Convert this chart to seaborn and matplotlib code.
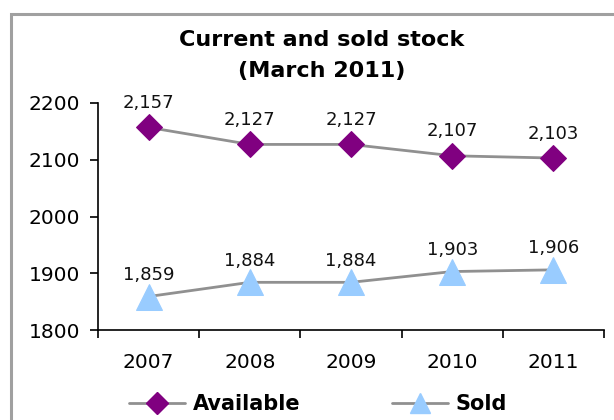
import matplotlib
matplotlib.use("Agg")
import matplotlib.pyplot as plt
import seaborn as sns
import pandas as pd
from matplotlib.lines import Line2D
from matplotlib.patches import Rectangle

years = [2007, 2008, 2009, 2010, 2011]
available = [2157, 2127, 2127, 2107, 2103]
sold = [1859, 1884, 1884, 1903, 1906]
yticks = [1800, 1900, 2000, 2100, 2200]
title = "Current and sold stock\n(March 2011)"

sns.set_theme(style="white")
plt.rcParams['font.family'] = ['DejaVu Sans']
plt.rcParams['text.color'] = 'black'
plt.rcParams['xtick.color'] = 'black'
plt.rcParams['ytick.color'] = 'black'

fig = plt.figure(figsize=(6.14, 4.2), dpi=100)
ax = fig.add_axes([98/614, 1-330/420, (604-98)/614, (330-103)/420])

df = pd.DataFrame({"year": years, "Available": available, "Sold": sold})

line_col = "#909090"
sns.lineplot(data=df, x="year", y="Available", ax=ax, color=line_col, lw=2,
             marker="D", markersize=13, markerfacecolor="#800080",
             markeredgecolor="#800080", zorder=3)
sns.lineplot(data=df, x="year", y="Sold", ax=ax, color=line_col, lw=2,
             marker="^", markersize=19, markerfacecolor="#99CCFF",
             markeredgecolor="#99CCFF", zorder=3)

for x, v in zip(years, available):
    ax.annotate(f"{v:,}", (x, v), xytext=(0, 11), textcoords="offset points",
                ha="center", va="bottom", fontsize=13, color="#111111")
for x, v in zip(years, sold):
    ax.annotate(f"{v:,}", (x, v), xytext=(0, 9), textcoords="offset points",
                ha="center", va="bottom", fontsize=13, color="#111111")

ax.set_ylim(1800, 2200)
ax.set_yticks(yticks)
ax.set_xlim(years[0]-0.5, years[-1]+0.5)
ax.set_xticks([y-0.5 for y in years] + [years[-1]+0.5])
ax.set_xticklabels([])
ax.set_xticks(years, minor=True)
ax.set_xticklabels([str(y) for y in years], minor=True)
ax.tick_params(axis="x", which="major", direction="out", length=6, width=1.2, color="black", bottom=True)
ax.tick_params(axis="x", which="minor", length=0, pad=16.5, labelsize=14.5)
ax.tick_params(axis="y", direction="out", length=6, width=1.2, color="black", left=True, pad=7, labelsize=14.5)
ax.set_xlabel("")
ax.set_ylabel("")
for s in ["top", "right"]:
    ax.spines[s].set_visible(False)
for s in ["left", "bottom"]:
    ax.spines[s].set_color("black")
    ax.spines[s].set_linewidth(1.2)

fig.suptitle(title, x=322/614, y=1-30/420, fontsize=16, fontweight="bold", va="top",
             linespacing=1.7, color="black")

handles = [
    Line2D([], [], color=line_col, lw=2, marker="D", markersize=11,
           markerfacecolor="#800080", markeredgecolor="#800080"),
    Line2D([], [], color=line_col, lw=2, marker="^", markersize=15,
           markerfacecolor="#99CCFF", markeredgecolor="#99CCFF"),
]
fig.legend(handles, ["Available", "Sold"], loc="center", bbox_to_anchor=(318/614, 1-404/420),
           ncol=2, frameon=False, prop={"weight": "bold", "size": 15}, columnspacing=4.4,
           handlelength=2.7, handletextpad=0.35, borderpad=0)

fig.patches.append(Rectangle((11/614, -0.1), 1.2, 1.1 - 14/420, transform=fig.transFigure,
                             fill=False, edgecolor="#A0A0A0", lw=2.2, figure=fig))

fig.savefig("out.png", dpi=100)
